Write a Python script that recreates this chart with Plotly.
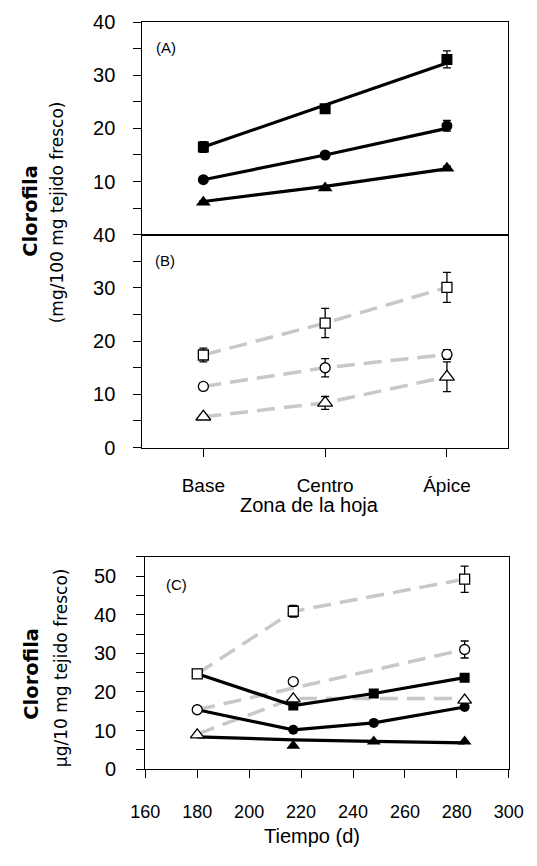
import plotly.graph_objects as go

# ---------------- data ----------------
zones = ["Base", "Centro", "Ápice"]

# Panel A (filled symbols, solid lines)
a_sq = [16.5, 23.7, 33.0]
a_sq_err = [1.0, 0.6, 1.6]
a_sq_fit = [16.5, 24.4, 32.3]
a_ci = [10.35, 15.0, 20.5]
a_ci_err = [0.5, 0.4, 1.0]
a_ci_fit = [10.35, 15.0, 20.0]
a_tr = [6.1, 8.8, 12.5]
a_tr_err = [0.3, 0.3, 0.4]
a_tr_fit = [6.25, 9.1, 12.4]

# Panel B (open symbols, dashed lines)
b_sq = [17.4, 23.4, 30.1]
b_sq_err = [1.3, 2.75, 2.8]
b_ci = [11.5, 15.0, 17.5]
b_ci_err = [0.6, 1.7, 0.9]
b_tr = [5.8, 8.4, 13.3]
b_tr_err = [0.4, 1.2, 2.8]

# Panel C
days = [180, 217, 248, 283]
c_sq_f = [24.7, 16.5, 19.6, 23.7]
c_ci_f = [15.4, 10.2, 12.0, 16.1]
c_tr_f_line = [8.4, 7.6, 7.2, 6.8]
c_tr_f = [None, 6.1, 7.2, 7.2]
days_o = [180, 217, 283]
c_sq_o = [24.7, 40.9, 49.2]
c_sq_o_err = [0, 1.5, 3.4]
c_ci_o = [15.4, 22.7, 31.0]
c_ci_o_err = [0, 0, 2.2]
c_ci_o_line = [15.4, 21.0, 31.0]
c_tr_o = [8.9, 18.2, 17.9]
c_tr_o_line = [9.1, 18.3, 18.3]

y_ticks_a = [10, 20, 30, 40]
y_ticks_b = [0, 10, 20, 30, 40]
y_ticks_c = [0, 10, 20, 30, 40, 50]

# ---------------- style ----------------
W, H = 537, 866
FONT = "Liberation Sans, Arial, sans-serif"
WIDE = "DejaVu Sans, Liberation Sans, sans-serif"
BLACK = "black"
GRAY = "#c8c8c8"
DASH = "18px,9px"


def px(x):
    return x / W


def py(y):
    return 1 - y / H


fig = go.Figure()


def err(vals):
    return dict(type="data", array=vals, visible=True, color=BLACK, thickness=1.3, width=4)


def add_line(x, y, xa, ya, color, dash, width):
    fig.add_trace(go.Scatter(x=x, y=y, mode="lines", xaxis=xa, yaxis=ya,
                             line=dict(color=color, width=width, dash=dash),
                             showlegend=False, hoverinfo="skip"))


def add_marks(x, y, e, xa, ya, symbol, size, filled):
    fig.add_trace(go.Scatter(
        x=x, y=y, mode="markers", xaxis=xa, yaxis=ya,
        error_y=err(e) if e is not None else None,
        marker=dict(symbol=symbol, size=size,
                    color=BLACK if filled else "white",
                    line=dict(color=BLACK, width=0 if filled else 1.3)),
        showlegend=False))


# Panel A
add_line(zones, a_sq_fit, "x", "y", BLACK, "solid", 3.2)
add_line(zones, a_ci_fit, "x", "y", BLACK, "solid", 3.2)
add_line(zones, a_tr_fit, "x", "y", BLACK, "solid", 3.2)
add_marks(zones, a_sq, a_sq_err, "x", "y", "square", 11, True)
add_marks(zones, a_ci, a_ci_err, "x", "y", "circle", 11, True)
add_marks(zones, a_tr, a_tr_err, "x", "y", "triangle-up", 13, True)

# Panel B
add_line(zones, b_sq, "x2", "y2", GRAY, DASH, 3.5)
add_line(zones, b_ci, "x2", "y2", GRAY, DASH, 3.5)
add_line(zones, b_tr, "x2", "y2", GRAY, DASH, 3.5)
add_marks(zones, b_sq, b_sq_err, "x2", "y2", "square", 10, False)
add_marks(zones, b_ci, b_ci_err, "x2", "y2", "circle", 10, False)
add_marks(zones, b_tr, b_tr_err, "x2", "y2", "triangle-up", 13, False)

# Panel C
add_line(days_o, c_sq_o, "x3", "y3", GRAY, DASH, 3.5)
add_line(days_o, c_ci_o_line, "x3", "y3", GRAY, DASH, 3.5)
add_line(days_o, c_tr_o_line, "x3", "y3", GRAY, DASH, 3.5)
add_line(days, c_sq_f, "x3", "y3", BLACK, "solid", 3.2)
add_line(days, c_ci_f, "x3", "y3", BLACK, "solid", 3.2)
add_line(days, c_tr_f_line, "x3", "y3", BLACK, "solid", 3.2)
add_marks(days, c_sq_f, None, "x3", "y3", "square", 10, True)
add_marks(days, c_ci_f, None, "x3", "y3", "circle", 10, True)
add_marks(days, c_tr_f, None, "x3", "y3", "triangle-up", 12, True)
add_marks(days_o, c_sq_o, c_sq_o_err, "x3", "y3", "square", 10, False)
add_marks(days_o, c_ci_o, c_ci_o_err, "x3", "y3", "circle", 10, False)
add_marks(days_o, c_tr_o, None, "x3", "y3", "triangle-up", 12, False)

axis_common = dict(showline=True, linecolor=BLACK, linewidth=1.3, mirror=True,
                   showgrid=False, zeroline=False, tickcolor=BLACK, tickwidth=1.3,
                   fixedrange=True, ticklabeloverflow="allow")
ytickfont = dict(family=FONT, size=20, color=BLACK)
minor5 = dict(ticks="outside", ticklen=8, tickwidth=1.3, tickcolor=BLACK,
              dtick=5, tick0=0, showgrid=False)

xd_ab = [px(135), px(522)]
xd_c = [px(138), px(523)]

fig.update_layout(
    autosize=True, margin=dict(l=0, r=0, t=0, b=0, pad=0),
    paper_bgcolor="white", plot_bgcolor="white", showlegend=False,
    xaxis=dict(axis_common, domain=xd_ab, anchor="y", type="category",
               range=[-0.5, 2.5], ticks="", showticklabels=False,
               categoryorder="array", categoryarray=zones),
    yaxis=dict(axis_common, domain=[py(229.5), py(11.5)], anchor="x",
               range=[0, 40], tickmode="array", tickvals=y_ticks_a,
               ticks="outside", ticklen=8, tickfont=ytickfont,
               ticklabelstandoff=14, minor=minor5),
    xaxis2=dict(axis_common, domain=xd_ab, anchor="y2", type="category",
                range=[-0.5, 2.5], ticks="outside", ticklen=8,
                categoryorder="array", categoryarray=zones,
                tickfont=dict(family=FONT, size=19, color=BLACK),
                ticklabelstandoff=12),
    yaxis2=dict(axis_common, domain=[py(448), py(229.5)], anchor="x2",
                range=[0, 40], tickmode="array", tickvals=y_ticks_b,
                ticks="outside", ticklen=8, tickfont=ytickfont,
                ticklabelstandoff=14, minor=minor5),
    xaxis3=dict(axis_common, domain=xd_c, anchor="y3", range=[160, 300],
                tickmode="linear", tick0=160, dtick=20, ticks="outside",
                ticklen=8, tickfont=dict(family=FONT, size=18, color=BLACK),
                ticklabelstandoff=18),
    yaxis3=dict(axis_common, domain=[py(778), py(560)], anchor="x3",
                range=[0, 55], tickmode="array", tickvals=y_ticks_c,
                ticks="outside", ticklen=8, tickfont=ytickfont,
                ticklabelstandoff=16, minor=minor5),
)


def ann(text, x, y, size, family, angle=0, bold=False):
    fig.add_annotation(text=("<b>%s</b>" % text) if bold else text,
                       x=px(x), y=py(y), xref="paper", yref="paper",
                       showarrow=False, textangle=angle,
                       xanchor="center", yanchor="middle",
                       font=dict(family=family, size=size, color=BLACK))


ann("(A)", 160, 37, 15, FONT)
ann("(B)", 159, 256, 15, FONT)
ann("(C)", 171, 588, 15, FONT)
ann("Zona de la hoja", 312, 507, 20, FONT)
ann("Tiempo (d)", 315, 847, 20, FONT)
ann("Clorofila", 17, 205, 19.5, WIDE, -90, True)
ann("(mg/100 mg tejido fresco)", 44, 207, 17, WIDE, -90)
ann("Clorofila", 18, 680, 19.5, WIDE, -90, True)
ann("µg/10 mg tejido fresco)", 49, 674, 17, WIDE, -90)

post = ("document.documentElement.style.margin='0';"
        "document.documentElement.style.overflow='hidden';"
        "document.body.style.margin='0';document.body.style.overflow='hidden';"
        "var gd=document.getElementById('{plot_id}');"
        "gd.style.width='100vw';gd.style.height='100vh';"
        "Plotly.Plots.resize(gd);")

fig.write_html("out.html", include_plotlyjs=True,
               config={"displayModeBar": False, "responsive": True},
               default_width="100vw", default_height="100vh",
               post_script=post)
